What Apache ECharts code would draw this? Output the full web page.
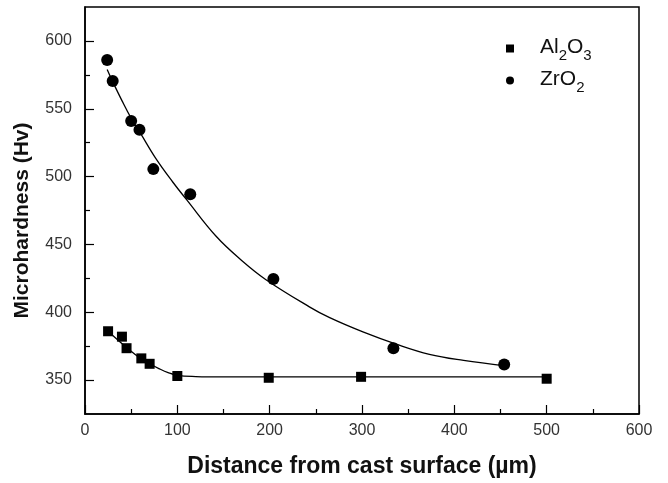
<!DOCTYPE html>
<html>
<head>
<meta charset="utf-8">
<script src="https://cdn.jsdelivr.net/npm/echarts@6.0.0/dist/echarts.min.js"></script>
<style>
    html, body { margin: 0; padding: 0; background: #fff; }
    #chart { width: 668px; height: 483px; }
</style>
</head>
<body>
<div id="chart"></div>
<script>
// measured points
var alX = [25, 40, 45, 61, 70, 100, 199, 299, 500];
var alY = [386, 382, 373.5, 366, 362, 353, 351.7, 352.4, 351];
var zrX = [24, 30, 50, 59, 74, 114, 204, 334, 454];
var zrY = [586, 570.5, 541, 534.5, 505.5, 487, 424.5, 373.5, 361.5];

// fitted curves
var alFitX = [25, 45, 60, 70, 80, 90, 100, 120, 150, 200, 300, 400, 500];
var alFitY = [386, 374, 366, 362, 358.5, 355.5, 353.5, 352.6, 352.3, 352.3, 352.3, 352.3, 352.3];
var zrFitX = [24, 30, 40, 50, 60, 77, 95, 110, 142, 170, 196, 243, 265, 301, 337, 373, 410, 455];
var zrFitY = [579, 570, 556, 543, 532, 513, 496, 483, 456, 438, 424, 404, 396, 385.5, 376.5, 369, 364.5, 360.5];

// axis ticks
var xTicks = [0, 100, 200, 300, 400, 500, 600];
var yTicks = [350, 400, 450, 500, 550, 600];
var yMinorTicks = [375, 425, 475, 525, 575];

var font = "'Liberation Sans', Arial, sans-serif";

function pairs(xs, ys) {
    var res = [];
    for (var i = 0; i < xs.length; i++) {
        res.push([xs[i], ys[i]]);
    }
    return res;
}

var myChart = echarts.init(document.getElementById('chart'));

var option = {
    backgroundColor: '#fff',
    animation: false,
    textStyle: { fontFamily: font },
    grid: {
        left: 85,
        right: 29,
        top: 7,
        bottom: 66,
        show: true,
        borderColor: '#000',
        borderWidth: 1.5
    },
    legend: {
        orient: 'vertical',
        left: 501,
        top: 32,
        itemWidth: 8,
        itemHeight: 8,
        itemGap: 6,
        data: ['Al2O3', 'ZrO2'],
        formatter: function (name) {
            if (name === 'Al2O3') {
                return '{f|Al}{s|2}{n|O}{s|3}';
            }
            return '{f|ZrO}{s|2}';
        },
        textStyle: {
            color: '#111',
            fontFamily: font,
            rich: {
                f: { fontSize: 21, verticalAlign: 'top', padding: [3, 0, 0, 21], fontFamily: font, color: '#111' },
                n: { fontSize: 21, verticalAlign: 'top', padding: [3, 0, 0, 0], fontFamily: font, color: '#111' },
                s: { fontSize: 15, verticalAlign: 'bottom', padding: [14, 0, 0, 0], fontFamily: font, color: '#111' }
            }
        }
    },
    xAxis: {
        type: 'value',
        min: 0,
        max: 600,
        interval: 100,
        name: 'Distance from cast surface (\u00b5m)',
        nameLocation: 'middle',
        nameGap: 41,
        nameTextStyle: { fontSize: 23, fontWeight: 'bold', color: '#111', fontFamily: font },
        axisLine: { lineStyle: { color: '#000', width: 1.5 } },
        axisTick: { inside: true, length: 9, lineStyle: { color: '#000', width: 1.2 } },
        minorTick: { show: true, splitNumber: 2, length: 5, lineStyle: { color: '#000', width: 1.2 } },
        axisLabel: {
            fontSize: 16,
            color: '#333',
            margin: 9,
            fontFamily: font,
            customValues: xTicks
        },
        splitLine: { show: false }
    },
    yAxis: [
        {
            type: 'value',
            min: 325,
            max: 625,
            name: 'Microhardness (Hv)',
            nameLocation: 'middle',
            nameGap: 52,
            nameTextStyle: { fontSize: 21, fontWeight: 'bold', color: '#111', fontFamily: font, padding: [0, 20, 0, 0] },
            axisLine: { show: true, lineStyle: { color: '#000', width: 1.5 } },
            axisTick: { show: true, inside: true, length: 9, customValues: yTicks, lineStyle: { color: '#000', width: 1.2 } },
            axisLabel: { fontSize: 16, color: '#333', margin: 13, fontFamily: font, customValues: yTicks },
            splitLine: { show: false }
        },
        {
            type: 'value',
            min: 325,
            max: 625,
            position: 'left',
            axisLine: { show: false },
            axisTick: { show: true, inside: true, length: 5, customValues: yMinorTicks, lineStyle: { color: '#000', width: 1.2 } },
            axisLabel: { show: false },
            splitLine: { show: false }
        }
    ],
    series: [
        {
            name: 'Al2O3fit',
            type: 'line',
            data: pairs(alFitX, alFitY),
            smooth: 0.4,
            showSymbol: false,
            lineStyle: { color: '#000', width: 1.3 },
            z: 1
        },
        {
            name: 'ZrO2fit',
            type: 'line',
            data: pairs(zrFitX, zrFitY),
            smooth: 0.4,
            showSymbol: false,
            lineStyle: { color: '#000', width: 1.3 },
            z: 1
        },
        {
            name: 'Al2O3',
            type: 'scatter',
            symbol: 'rect',
            symbolSize: 10,
            data: pairs(alX, alY),
            itemStyle: { color: '#000', opacity: 1 },
            z: 3
        },
        {
            name: 'ZrO2',
            type: 'scatter',
            symbol: 'circle',
            symbolSize: 12,
            data: pairs(zrX, zrY),
            itemStyle: { color: '#000', opacity: 1 },
            z: 3
        }
    ]
};

myChart.setOption(option);
window.addEventListener('resize', function () {
    myChart.resize();
});
</script>
</body>
</html>
